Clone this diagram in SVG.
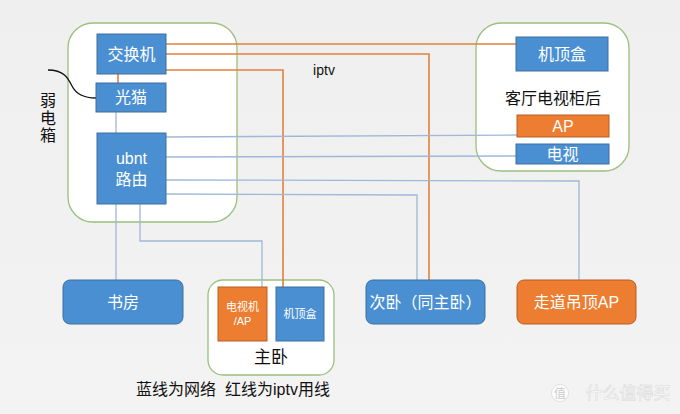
<svg xmlns="http://www.w3.org/2000/svg" width="680" height="414" viewBox="0 0 680 414">
<defs>
<linearGradient id="bg" x1="0" y1="0" x2="0" y2="1">
<stop offset="0" stop-color="#efefef"/>
<stop offset="1" stop-color="#f3f3f3"/>
</linearGradient>
</defs>
<style>
text{font-family:"Liberation Sans","Noto Sans CJK SC",sans-serif;}
.cont{fill:#ffffff;stroke:#9cbf7e;stroke-width:1.3;}
.blue{fill:#4a8fd2;stroke:#3f6f9e;stroke-width:1;}
.orange{fill:#ed7d31;stroke:#b55e22;stroke-width:1;}
.wt{fill:#ffffff;font-size:16px;text-anchor:middle;}
.sm{fill:#ffffff;font-size:11px;text-anchor:middle;}
.bt{fill:#111111;font-size:16px;text-anchor:middle;}
.nl{fill:none;stroke:#9fb8d6;stroke-width:1.3;}
.il{fill:none;stroke:#e2813f;stroke-width:1.6;}
</style>
<rect width="680" height="414" fill="url(#bg)"/>

<g id="weak-box">
<rect class="cont" x="68" y="23" width="169" height="199" rx="25"/>
<text class="bt" x="48" y="106">弱</text>
<text class="bt" x="48" y="124">电</text>
<text class="bt" x="48" y="141">箱</text>
</g>
<g id="living-box">
<rect class="cont" x="476" y="23" width="153" height="148" rx="25"/>
<text class="bt" x="553" y="104">客厅电视柜后</text>
</g>
<g id="master-box">
<rect class="cont" x="208" y="280" width="126" height="95" rx="15"/>
<text class="bt" x="271" y="363" style="font-size:17px">主卧</text>
</g>

<g id="connectors">
<path class="il" d="M118,74 V83"/>
<path class="nl" d="M116,112 V133"/>
<path d="M48,70 C64,70 68,78 72,86 C76,94 84,98 96,98" fill="none" stroke="#111" stroke-width="1.3"/>
<path class="il" d="M166,44 H516"/>
<path class="il" d="M166,54 H429 V280"/>
<path class="il" d="M166,70 H283 V287"/>
<path class="nl" d="M166,137 L517,135"/>
<path class="nl" d="M166,157 L516,156"/>
<path class="nl" d="M166,180 L579,181 V280"/>
<path class="nl" d="M166,194 L417,195 V280"/>
<path class="nl" d="M116,204 V280"/>
<path class="nl" d="M140,204 V241 H262 V287"/>
</g>

<g id="switch"><rect class="blue" x="97" y="34" width="69" height="40"/><text class="wt" x="131.5" y="59.5">交换机</text></g>
<g id="modem"><rect class="blue" x="96" y="83" width="70" height="29"/><text class="wt" x="131" y="103">光猫</text></g>
<g id="router"><rect class="blue" x="97" y="133" width="69" height="71"/><text class="wt" x="131.5" y="164">ubnt</text><text class="wt" x="131.5" y="185">路由</text></g>
<g id="stb-living"><rect class="blue" x="516" y="37" width="92" height="34"/><text class="wt" x="562" y="59.5">机顶盒</text></g>
<g id="ap-living"><rect class="orange" x="517" y="115" width="92" height="22"/><text class="wt" x="563" y="132">AP</text></g>
<g id="tv-living"><rect class="blue" x="516" y="144" width="93" height="20"/><text class="wt" x="562.5" y="160">电视</text></g>
<g id="study"><rect class="blue" x="63" y="280" width="120" height="44" rx="7"/><text class="wt" x="123" y="307.5">书房</text></g>
<g id="tv-ap-master"><rect class="orange" x="218" y="287" width="49" height="54"/><text class="sm" x="242.5" y="311">电视机</text><text class="sm" x="242.5" y="325">/AP</text></g>
<g id="stb-master"><rect class="blue" x="276" y="287" width="48" height="54"/><text class="sm" x="300" y="318">机顶盒</text></g>
<g id="second-bedroom"><rect class="blue" x="366" y="280" width="119" height="44" rx="7"/><text class="wt" x="425.5" y="307.5">次卧（同主卧）</text></g>
<g id="corridor-ap"><rect class="orange" x="517" y="280" width="119" height="44" rx="7"/><text class="wt" x="576.5" y="307.5">走道吊顶AP</text></g>

<text x="324" y="75" style="fill:#111;font-size:14px;text-anchor:middle">iptv</text>
<text x="233" y="395" xml:space="preserve" style="fill:#111;font-size:16px;text-anchor:middle;white-space:pre">蓝线为网络  红线为iptv用线</text>

<g id="watermark" opacity="0.9">
<circle cx="560" cy="393" r="8.5" fill="#ffffff" stroke="#d8d8d8" stroke-width="0.8"/>
<text x="560" y="398" style="fill:#c8c8c8;font-size:12px;text-anchor:middle">值</text>
<text x="628" y="399" style="fill:#ffffff;stroke:#d9d9d9;stroke-width:0.6;font-size:17px;text-anchor:middle">什么值得买</text>
</g>
</svg>
